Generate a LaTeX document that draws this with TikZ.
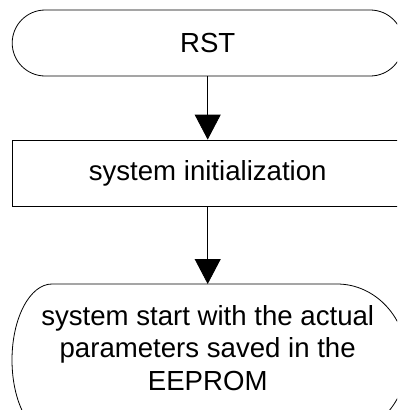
\documentclass[tikz,border=0pt]{standalone}
\usepackage{fontspec}
\setmainfont{Liberation Sans}
\usetikzlibrary{arrows.meta}
\begin{document}
\begin{tikzpicture}[x=1pt,y=-1pt,
  outline/.style={draw=black,line width=0.8pt},
  label/.style={font=\fontsize{27.6}{32.5}\selectfont,align=center,inner sep=0pt},
  flow/.style={draw=black,line width=0.8pt,-{Triangle[width=26pt,length=25pt]}}]
\useasboundingbox (0,0) rectangle (397,410);
\clip (0,0) rectangle (397,410);
\node[outline,label,minimum width=391pt,minimum height=66pt,rounded corners=33pt] (rst) at (207.7,43) {RST};
\node[outline,label,minimum width=391pt,minimum height=66pt] (init) at (207.7,173) {system initialization};
\draw[outline] (52,284) -- (337,284) arc[start angle=-90,end angle=90,x radius=70,y radius=76]
  -- (52,436) arc[start angle=90,end angle=270,x radius=40,y radius=76] -- cycle;
\coordinate (starttop) at (207.7,284);
\node[label] (start) at (207.7,348) {system start with the actual\\parameters saved in the\\EEPROM};
\draw[flow] (rst.south) -- (init.north);
\draw[flow] (init.south) -- (starttop);
\end{tikzpicture}
\end{document}
